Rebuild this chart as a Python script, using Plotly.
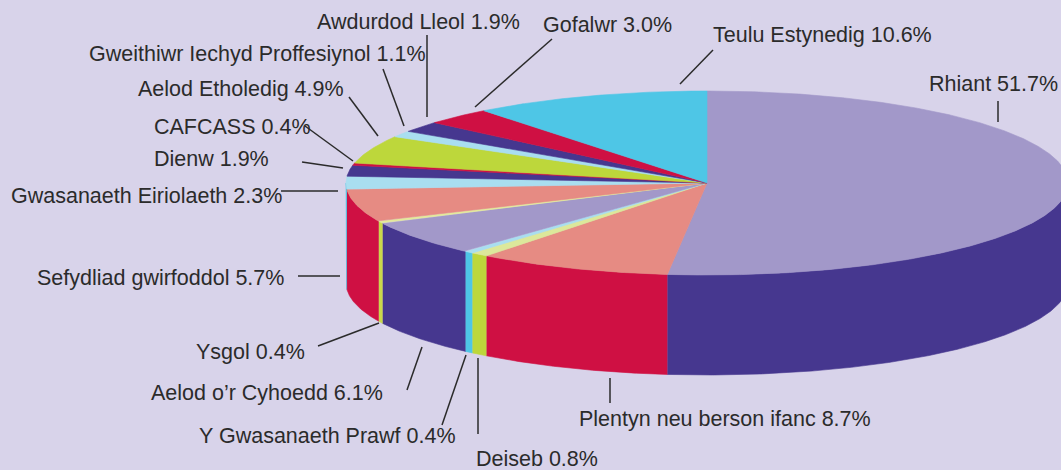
import numpy as np
import plotly.graph_objects as go

# ---------------- data ----------------
categories = [
    "Rhiant", "Plentyn neu berson ifanc", "Deiseb", "Y Gwasanaeth Prawf",
    "Aelod o’r Cyhoedd", "Ysgol", "Sefydliad gwirfoddol", "Gwasanaeth Eiriolaeth",
    "Dienw", "CAFCASS", "Aelod Etholedig", "Gweithiwr Iechyd Proffesiynol",
    "Awdurdod Lleol", "Gofalwr", "Teulu Estynedig",
]
values = [51.7, 8.7, 0.8, 0.4, 6.1, 0.4, 5.7, 2.3, 1.9, 0.4, 4.9, 1.1, 1.9, 3.0, 10.6]

# ---------------- styles ----------------
top_colors = [
    "#a298c9", "#e68b83", "#dce89b", "#a9def0", "#a298c9", "#e4ea9a", "#e68b83",
    "#a9def0", "#46378f", "#cf1043", "#bdd73b", "#a9def0", "#46378f", "#cf1043", "#4ec6e6",
]
side_colors = [
    "#46378f", "#cf1043", "#bdd73b", "#4ec6e6", "#46378f", "#c9d84a", "#cf1043",
    "#4ec6e6", "#46378f", "#cf1043", "#bdd73b", "#4ec6e6", "#46378f", "#cf1043", "#4ec6e6",
]
BG = "#d8d3ea"
TEXT = "#2b2b2b"

# label layout: (left x, centre y, leader x0, y0, x1, y1)
label_layout = [
    (927, 84, 998, 101, 998, 122),
    (577, 419, 610, 378, 610, 403),
    (474, 459, 478, 358, 478, 434),
    (197, 436, 442, 425, 466, 355),
    (149, 393, 407, 390, 422, 347),
    (194, 352, 318, 346, 379, 323),
    (35, 278, 298, 276, 340, 276),
    (9, 196, 281, 191, 338, 191),
    (152, 159, 302, 162, 343, 168),
    (152, 127, 305, 126, 353, 161),
    (136, 89, 349, 97, 378, 136),
    (87, 54, 383, 69, 404, 126),
    (315, 22, 427, 35, 427, 117),
    (541, 25, 552, 39, 475, 107),
    (711, 35, 713, 50, 680, 84),
]

CX, CY, RX, RY, DEPTH = 707, 183, 361, 92, 100


def pt(theta):
    return CX + RX * np.sin(theta), CY - RY * np.cos(theta)


fracs = np.array(values) / np.sum(values)
ends = np.cumsum(fracs) * 2 * np.pi
starts = ends - fracs * 2 * np.pi

fig = go.Figure()

# side walls (front half only)
for i, cat in enumerate(categories):
    a = max(starts[i], np.pi / 2)
    b = min(ends[i], 3 * np.pi / 2)
    if b <= a:
        continue
    th = np.linspace(a, b, max(3, int((b - a) * 200)))
    xs, ys = pt(th)
    px = np.concatenate([xs, xs[::-1]])
    py = np.concatenate([ys, ys[::-1] + DEPTH])
    fig.add_trace(go.Scatter(
        x=px, y=py, mode="lines", fill="toself", fillcolor=side_colors[i],
        line=dict(color=side_colors[i], width=0.6), hoverinfo="skip", name=cat,
    ))

# top faces
for i, cat in enumerate(categories):
    th = np.linspace(starts[i], ends[i], max(3, int((ends[i] - starts[i]) * 200)))
    xs, ys = pt(th)
    px = np.concatenate([[CX], xs, [CX]])
    py = np.concatenate([[CY], ys, [CY]])
    fig.add_trace(go.Scatter(
        x=px, y=py, mode="lines", fill="toself", fillcolor=top_colors[i],
        line=dict(color=top_colors[i], width=0.6), hoverinfo="skip", name=cat,
    ))

annotations = []
shapes = []
for cat, v, (lx, ly, x0, y0, x1, y1) in zip(categories, values, label_layout):
    annotations.append(dict(
        x=lx, y=ly, xref="x", yref="y", text=f"{cat} {v:.1f}%", showarrow=False,
        xanchor="left", yanchor="middle",
        font=dict(family="Liberation Sans, Arial, sans-serif", size=21.5, color=TEXT),
    ))
    shapes.append(dict(type="line", xref="x", yref="y", x0=x0, y0=y0, x1=x1, y1=y1,
                       line=dict(color=TEXT, width=1.5)))

fig.update_layout(
    width=1061, height=470,
    margin=dict(l=0, r=0, t=0, b=0),
    paper_bgcolor=BG, plot_bgcolor=BG,
    showlegend=False, hovermode=False,
    xaxis=dict(range=[0, 1061], visible=False, fixedrange=True),
    yaxis=dict(range=[470, 0], visible=False, fixedrange=True),
    annotations=annotations, shapes=shapes,
)

fig.write_html(
    "out.html",
    config={"displayModeBar": False},
    post_script="document.body.style.margin='0';document.body.style.overflow='hidden';",
)
